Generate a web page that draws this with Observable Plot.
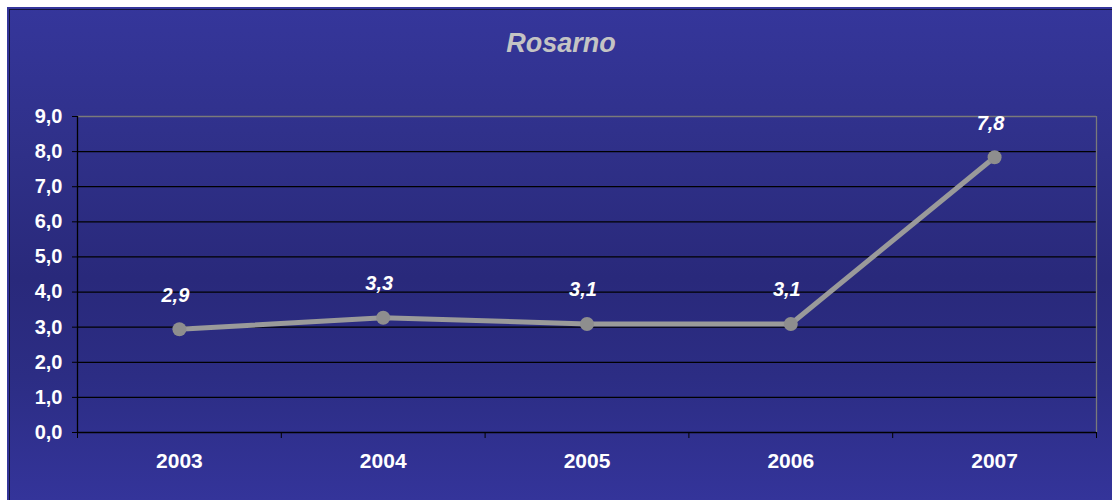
<!DOCTYPE html>
<html><head><meta charset="utf-8">
<script src="https://cdn.jsdelivr.net/npm/d3@7"></script>
<script src="https://cdn.jsdelivr.net/npm/@observablehq/plot@0.6"></script>
<style>
body{margin:0;background:#fff;}
#wrap{position:relative;width:1113px;height:503px;overflow:hidden;}
#bg{position:absolute;left:7px;top:7px;width:1105px;height:493px;
  background:linear-gradient(#35369b 0%, #2f3088 30%, #29297b 55%, #2c2d84 75%, #34349a 100%);
  box-shadow: inset 2px 2px 0 #34359a, inset 3px 3px 0 #14143a;}
#chart{position:absolute;left:0;top:0;}
</style>
</head><body>
<div id="wrap"><div id="bg"></div><div id="chart"></div></div>
<script>
const title = "Rosarno";
const years = [2003, 2004, 2005, 2006, 2007];
const values = [2.94, 3.27, 3.09, 3.09, 7.84];
const yTicks = [0, 1, 2, 3, 4, 5, 6, 7, 8, 9];

const data = years.map((year, i) => ({year, value: values[i]}));
const fmt = d => d.toFixed(1).replace(".", ",");
const bounds = years.map(y => y - 0.5).concat([years[years.length - 1] + 0.5]);
const font = "'Liberation Sans', Arial, sans-serif";

const chart = Plot.plot({
  width: 1113, height: 503,
  marginLeft: 77, marginRight: 17, marginTop: 116, marginBottom: 71,
  style: {background: "transparent", fontFamily: font, overflow: "visible"},
  x: {type: "linear", domain: [bounds[0], bounds[bounds.length - 1]]},
  y: {domain: [0, 9]},
  marks: [
    Plot.ruleY(yTicks.filter(d => d > 0 && d < 9), {stroke: "#000", strokeWidth: 1.3}),
    Plot.ruleY([9], {stroke: "#7a7a7a", strokeWidth: 1.3}),
    Plot.ruleX([bounds[bounds.length - 1]], {stroke: "#7a7a7a", strokeWidth: 1.3}),
    Plot.ruleX([bounds[0]], {stroke: "#000", strokeWidth: 1.3}),
    Plot.ruleY([0], {stroke: "#000", strokeWidth: 1.3}),
    Plot.axisY({ticks: yTicks, tickFormat: fmt, tickSize: 5, tickPadding: 10, stroke: "#000", fill: "white",
      fontSize: 20, fontWeight: "bold", label: null}),
    Plot.axisX({ticks: bounds, tickFormat: () => "", tickSize: 6, stroke: "#000", label: null}),
    Plot.axisX({ticks: years, tickFormat: d => String(d), tickSize: 0, tickPadding: 21, fill: "white",
      fontSize: 21, fontWeight: "bold", label: null}),
    Plot.line(data, {x: "year", y: "value", stroke: "#9a9a9a", strokeWidth: 5}),
    Plot.dot(data, {x: "year", y: "value", r: 7, fill: "#8e8e8e", stroke: "none"}),
    Plot.text(data, {x: "year", y: "value", text: d => fmt(d.value), dy: -34, dx: -4, fill: "white",
      fontSize: 20, fontWeight: "bold", fontStyle: "italic"}),
    Plot.text([title], {frameAnchor: "top", lineAnchor: "middle", dy: -73, dx: -26, fill: "#c4c4c4",
      fontSize: 27, fontWeight: "bold", fontStyle: "italic"})
  ]
});
document.getElementById("chart").appendChild(chart);
</script>
</body></html>
